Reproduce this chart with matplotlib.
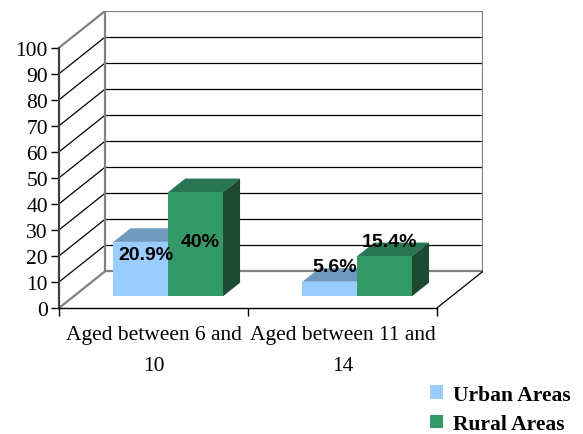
import numpy as np
import matplotlib.pyplot as plt
from matplotlib.patches import Polygon, Patch

categories = ['Aged between 6 and\n10', 'Aged between 11 and\n14']
series_names = ['Urban Areas', 'Rural Areas']
urban = [20.9, 5.6]
rural = [40.0, 15.4]
value_text = [['20.9%', '5.6%'], ['40%', '15.4%']]
yticks = list(range(0, 101, 10))

front_cols = ['#99CCFF', '#339966']
top_cols = ['#7099C0', '#277552']
side_cols = ['#5C82A8', '#1D4A33']

# 3d look: depth of the box in data units
DX, DY = 0.244, 14.1
bw = 0.29        # width of one bar
bz = 0.32        # front of bars as fraction of depth
bd = 0.37        # bar depth as fraction of depth
# label anchor heights (front plane)
label_y = [[20.7, 15.8], [25.4, 25.4]]

fig = plt.figure(figsize=(5.83, 4.35), dpi=100)
ax = fig.add_axes([59/583, 126/435, 424/583, 297/435])
ax.set_xlim(0, 2 + DX)
ax.set_ylim(0, 100 + DY)

frame = '#808080'
n = len(categories)

# back wall gridlines + left wall diagonals
for v in yticks:
    col, lw = ('black', 0.9)
    if v in (0, 100):
        col, lw = frame, 1.6
    ax.plot([DX, n + DX], [v + DY, v + DY], color=col, lw=lw, zorder=1)
    ax.plot([0, DX], [v, v + DY], color=col if v in (0, 100) else 'black',
            lw=lw, zorder=1)
# wall edges
ax.plot([DX, DX], [DY, 100 + DY], color=frame, lw=1.6, zorder=1)
ax.plot([n + DX, n + DX], [DY, 100 + DY], color=frame, lw=1.6, zorder=1)
ax.plot([n, n + DX], [0, DY], color='black', lw=0.9, zorder=1)

# bars
series = [urban, rural]
ox, oy = bz * DX, bz * DY
ddx, ddy = bd * DX, bd * DY
for i in range(n):
    for s in range(2):
        v = series[s][i]
        x0 = i + 0.5 - bw + s * bw + ox
        x1 = x0 + bw
        y0 = oy
        y1 = oy + v
        ax.add_patch(Polygon([[x0, y1], [x1, y1], [x1 + ddx, y1 + ddy], [x0 + ddx, y1 + ddy]],
                             closed=True, facecolor=top_cols[s], edgecolor='none', zorder=3 + s))
        ax.add_patch(Polygon([[x1, y0], [x1 + ddx, y0 + ddy], [x1 + ddx, y1 + ddy], [x1, y1]],
                             closed=True, facecolor=side_cols[s], edgecolor='none', zorder=3 + s))
        ax.add_patch(Polygon([[x0, y0], [x1, y0], [x1, y1], [x0, y1]],
                             closed=True, facecolor=front_cols[s], edgecolor='none', zorder=3 + s))
        ax.text((x0 + x1) / 2 + 0.025, label_y[s][i], value_text[s][i],
                ha='center', va='center', fontsize=14, fontweight='bold',
                family='Liberation Sans', zorder=10)

# axes
for sp in ['top', 'right']:
    ax.spines[sp].set_visible(False)
ax.spines['left'].set_bounds(0, 100)
ax.spines['bottom'].set_bounds(0, n)
ax.spines['left'].set_color('#404040')
ax.spines['left'].set_linewidth(1.6)
ax.spines['bottom'].set_linewidth(1.0)
ax.set_yticks(yticks)
ax.set_yticklabels([str(t) for t in yticks], family='Liberation Serif', fontsize=15.5)
ax.tick_params(axis='y', direction='out', length=6, width=1, color='black', pad=2)
ax.set_xticks(range(n + 1))
ax.set_xticklabels([])
ax.tick_params(axis='x', which='major', direction='out', length=6, width=1)
ax.set_xticks([i + 0.5 for i in range(n)], minor=True)
ax.set_xticklabels(categories, minor=True, family='Liberation Serif', fontsize=15.5,
                   linespacing=1.9)
ax.tick_params(axis='x', which='minor', length=0, pad=12)

handles = [Patch(facecolor=front_cols[s], edgecolor='none') for s in range(2)]
fig.legend(handles, series_names, loc='lower right', bbox_to_anchor=(1.012, -0.045),
           frameon=False, prop={'family': 'Liberation Serif', 'weight': 'bold', 'size': 15.5},
           handlelength=0.6, handleheight=0.6, handletextpad=0.45, labelspacing=0.45)

fig.savefig('out.png', dpi=100)
